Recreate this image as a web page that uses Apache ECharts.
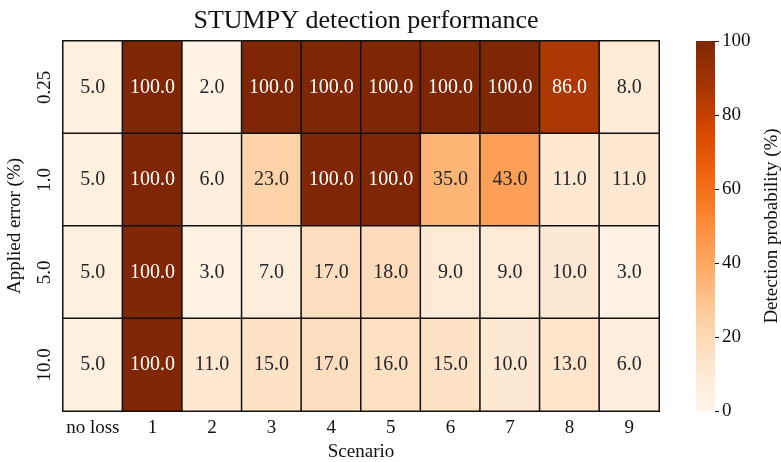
<!DOCTYPE html>
<html>
<head>
<meta charset="utf-8">
<script src="https://cdn.jsdelivr.net/npm/echarts@6/dist/echarts.min.js"></script>
</head>
<body style="margin:0">
<div id="main" style="width:781px;height:462px;"></div>
<script type="text/javascript">
var scenarios = ['no loss', '1', '2', '3', '4', '5', '6', '7', '8', '9'];
var errors = ['0.25', '1.0', '5.0', '10.0'];
// one row per applied error, values per scenario
var row025 = [5, 100, 2, 100, 100, 100, 100, 100, 86, 8];
var row10 = [5, 100, 6, 23, 100, 100, 35, 43, 11, 11];
var row50 = [5, 100, 3, 7, 17, 18, 9, 9, 10, 3];
var row100 = [5, 100, 11, 15, 17, 16, 15, 10, 13, 6];
var rows = [row025, row10, row50, row100];

var oranges = ['#fff5eb', '#fee6ce', '#fdd0a2', '#fdae6b', '#fd8d3c', '#f16913', '#d94801', '#a63603', '#7f2704'];
var font = 'Liberation Serif';

var cells = [];
rows.forEach(function (r, yi) {
    r.forEach(function (v, xi) {
        cells.push({
            value: [xi, yi, v],
            label: { color: v > 60 ? '#ffffff' : '#262626' }
        });
    });
});

var stops = oranges.map(function (c, i) {
    return { offset: i / (oranges.length - 1), color: c };
});

var myChart = echarts.init(document.getElementById('main'));
var option = {
    backgroundColor: '#ffffff',
    textStyle: { fontFamily: font },
    title: {
        text: 'STUMPY detection performance',
        left: 361, top: 3, textAlign: 'center',
        textStyle: { fontFamily: font, fontSize: 26, fontWeight: 'normal', color: '#111' }
    },
    grid: [
        { left: 63, top: 41, right: 122, bottom: 51, outerBoundsMode: 'none' },
        { left: 696, top: 41, width: 19, bottom: 51, outerBoundsMode: 'none' }
    ],
    xAxis: [{
        type: 'category', data: scenarios, gridIndex: 0,
        name: 'Scenario', nameLocation: 'middle', nameGap: 32,
        nameTextStyle: { fontSize: 19, color: '#111' },
        axisLine: { show: false },
        axisTick: { alignWithLabel: true, interval: 0, length: 4, lineStyle: { color: '#111' } },
        axisLabel: { fontSize: 19, color: '#111', margin: 8, interval: 0 },
        splitLine: { show: false }
    }, {
        type: 'category', data: [''], gridIndex: 1,
        axisLine: { show: false }, axisTick: { show: false }, axisLabel: { show: false }
    }],
    yAxis: [{
        type: 'category', data: errors, gridIndex: 0, inverse: true,
        name: 'Applied error (%)', nameLocation: 'middle', nameGap: 38, nameRotate: 90,
        nameTextStyle: { fontSize: 19, color: '#111' },
        axisLine: { show: false },
        axisTick: { alignWithLabel: true, interval: 0, length: 4, lineStyle: { color: '#111' } },
        axisLabel: { fontSize: 19, color: '#111', rotate: 90, margin: 8, interval: 0 },
        splitLine: { show: false }
    }, {
        type: 'value', gridIndex: 1, min: 0, max: 100, interval: 20, position: 'right',
        name: 'Detection probability (%)', nameLocation: 'middle', nameGap: 48, nameRotate: 90,
        nameTextStyle: { fontSize: 19, color: '#111' },
        axisLine: { show: false },
        axisTick: { show: true, length: 4, lineStyle: { color: '#111' } },
        axisLabel: { fontSize: 19, color: '#111', margin: 7 },
        splitLine: { show: false }
    }],
    visualMap: {
        show: false, min: 0, max: 100, dimension: 2, seriesIndex: 0,
        inRange: { color: oranges }
    },
    series: [{
        type: 'heatmap', xAxisIndex: 0, yAxisIndex: 0,
        data: cells,
        itemStyle: { borderColor: '#111', borderWidth: 1.5 },
        label: {
            show: true, fontSize: 20, fontFamily: font,
            formatter: function (p) { return p.value[2].toFixed(1); }
        },
        emphasis: { disabled: true }
    }, {
        type: 'bar', xAxisIndex: 1, yAxisIndex: 1,
        data: [100], barWidth: '100%', silent: true,
        itemStyle: { color: new echarts.graphic.LinearGradient(0, 1, 0, 0, stops) }
    }]
};
myChart.setOption(option);
</script>
</body>
</html>
